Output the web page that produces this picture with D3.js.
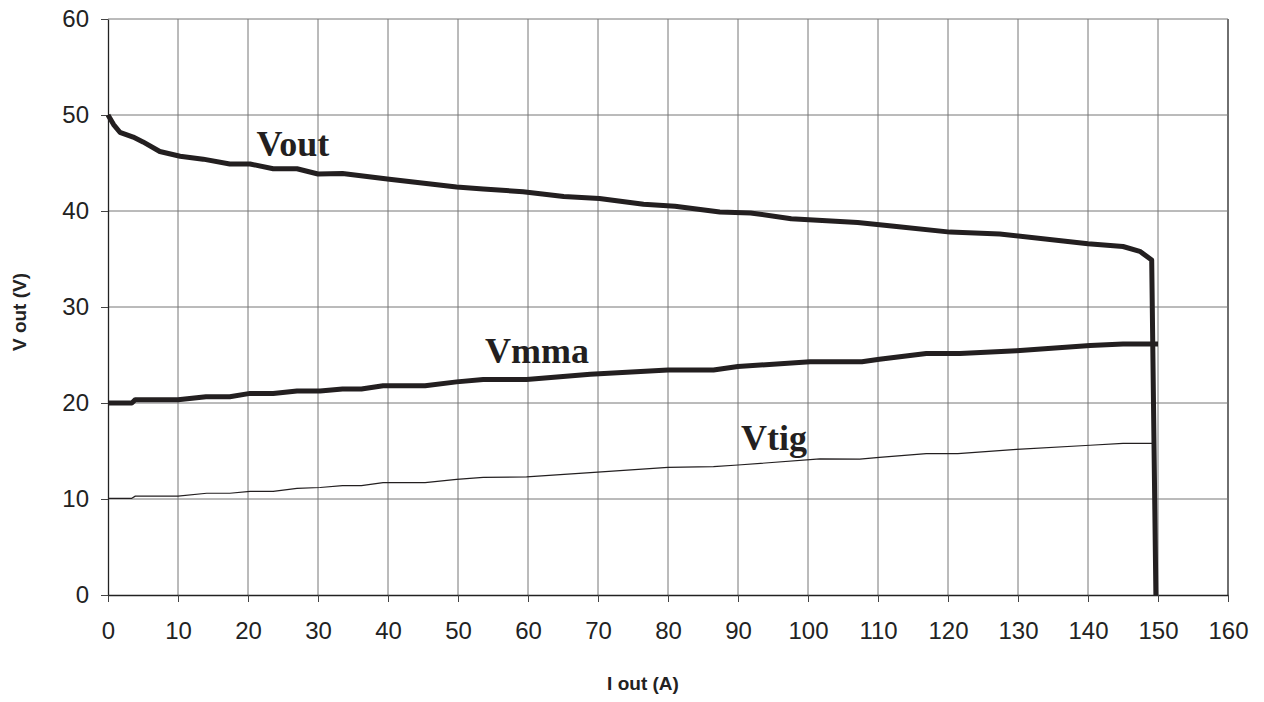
<!DOCTYPE html>
<html>
<head>
<meta charset="utf-8">
<script src="https://cdn.jsdelivr.net/npm/d3@7"></script>
<style>
  body { margin: 0; background: #fff; }
  svg { display: block; }
</style>
</head>
<body>
<div id="chart"></div>
<script>
const width = 1264;
const height = 702;

// x ticks / y ticks
const xTicks = [0, 10, 20, 30, 40, 50, 60, 70, 80, 90, 100, 110, 120, 130, 140, 150, 160];
const yTicks = [0, 10, 20, 30, 40, 50, 60];

// Vout curve (I out in A, V out in V)
const voutI = [0, 0.8, 1.7, 3.6, 5, 7.4, 10.3, 13.6, 17.4, 20.3, 23.6, 27, 30, 33.5, 40.2, 49.8, 53.6, 59.3, 65.1, 70.2, 76.5, 81, 87.4, 91.8, 97.6, 107.1, 112.3, 120.3, 127.4, 140, 145, 147.4, 149.1, 149.7];
const voutV = [50, 49, 48.2, 47.7, 47.2, 46.2, 45.7, 45.4, 44.9, 44.9, 44.4, 44.4, 43.85, 43.9, 43.3, 42.5, 42.3, 42.0, 41.5, 41.3, 40.7, 40.5, 39.9, 39.8, 39.2, 38.8, 38.4, 37.8, 37.6, 36.6, 36.3, 35.8, 34.9, 0];

// Vmma curve
const vmmaI = [0, 3.4, 3.9, 10, 14, 17.4, 20.3, 23.6, 27, 30.3, 33.5, 36.2, 39.3, 45.3, 49.8, 53.6, 59.8, 68.9, 80, 86.5, 90, 100.3, 107.7, 110.2, 116.9, 121.7, 129.8, 140.3, 145, 150];
const vmmaV = [20, 20, 20.35, 20.35, 20.65, 20.65, 21, 21, 21.25, 21.25, 21.45, 21.45, 21.8, 21.8, 22.2, 22.45, 22.45, 23.0, 23.44, 23.44, 23.8, 24.3, 24.3, 24.55, 25.15, 25.15, 25.45, 26.0, 26.15, 26.15];

// Vtig curve
const vtigI = [0, 3.4, 3.9, 10, 14.1, 17.4, 20.3, 23.6, 27, 30.3, 33.5, 36.2, 39.3, 45.3, 49.8, 53.6, 59.8, 68.9, 80, 86.5, 90, 101.7, 107.4, 110.2, 116.9, 121.4, 129.8, 140.3, 145, 149.3];
const vtigV = [10.07, 10.07, 10.3, 10.3, 10.6, 10.6, 10.8, 10.8, 11.1, 11.2, 11.4, 11.4, 11.7, 11.7, 12.05, 12.26, 12.3, 12.74, 13.3, 13.37, 13.54, 14.17, 14.15, 14.34, 14.72, 14.72, 15.17, 15.6, 15.8, 15.8];

const x = d3.scaleLinear().domain([0, 160]).range([108, 1228]);
const y = d3.scaleLinear().domain([0, 60]).range([595, 19]);

const svg = d3.select('#chart')
    .append('svg')
    .attr('width', width)
    .attr('height', height);

// grid
let grid = svg.append('g').attr('class', 'grid');
grid.selectAll('line.gx')
    .data(xTicks.slice(1))
    .enter()
    .append('line')
    .attr('x1', d => x(d)).attr('x2', d => x(d))
    .attr('y1', y(0)).attr('y2', y(60))
    .attr('stroke', d => d === 160 ? '#222' : '#777')
    .attr('stroke-width', d => d === 160 ? 1.3 : 1);
grid.selectAll('line.gy')
    .data(yTicks.slice(1))
    .enter()
    .append('line')
    .attr('x1', x(0)).attr('x2', x(160))
    .attr('y1', d => y(d)).attr('y2', d => y(d))
    .attr('stroke', '#777')
    .attr('stroke-width', 1);

// axes
let axisX = d3.axisBottom(x)
    .tickValues(xTicks)
    .tickSize(7)
    .tickPadding(20)
    .tickSizeOuter(0);
let axisY = d3.axisLeft(y)
    .tickValues(yTicks)
    .tickSize(7)
    .tickPadding(12)
    .tickSizeOuter(0);

let gx = svg.append('g')
    .attr('transform', 'translate(0,' + y(0) + ')')
    .call(axisX);
let gy = svg.append('g')
    .attr('transform', 'translate(' + x(0) + ',0)')
    .call(axisY);

[gx, gy].forEach(g => {
    g.select('.domain').attr('stroke', '#222').attr('stroke-width', 1.3);
    g.selectAll('.tick line').attr('stroke', '#444');
    g.selectAll('.tick text')
        .attr('fill', '#222')
        .style('font-family', '"Liberation Sans", Arial, sans-serif')
        .style('font-size', '24px');
});

// axis titles
svg.append('text')
    .attr('x', 643)
    .attr('y', 690)
    .attr('text-anchor', 'middle')
    .style('font-family', '"Liberation Sans", Arial, sans-serif')
    .style('font-weight', 'bold')
    .style('font-size', '19px')
    .attr('fill', '#222')
    .text('I out (A)');

svg.append('text')
    .attr('transform', 'translate(26,312) rotate(-90)')
    .attr('text-anchor', 'middle')
    .style('font-family', '"Liberation Sans", Arial, sans-serif')
    .style('font-weight', 'bold')
    .style('font-size', '19px')
    .attr('fill', '#222')
    .text('V out (V)');

// curves
const line = d3.line()
    .x(d => x(d[0]))
    .y(d => y(d[1]));

const series = [
    { i: vtigI, v: vtigV, w: 1.2 },
    { i: vmmaI, v: vmmaV, w: 5 },
    { i: voutI, v: voutV, w: 5 }
];

series.forEach(s => {
    svg.append('path')
        .attr('d', line(s.i.map((d, k) => [d, s.v[k]])))
        .attr('fill', 'none')
        .attr('stroke', '#231f20')
        .attr('stroke-width', s.w)
        .attr('stroke-linejoin', 'round');
});

// curve labels
const labels = [
    { text: 'Vout', x: 256.5, y: 156 },
    { text: 'Vmma', x: 485, y: 363 },
    { text: 'Vtig', x: 741, y: 450 }
];
svg.selectAll('text.lbl')
    .data(labels)
    .enter()
    .append('text')
    .attr('class', 'lbl')
    .attr('x', d => d.x)
    .attr('y', d => d.y)
    .style('font-family', '"Liberation Serif", "Times New Roman", serif')
    .style('font-weight', 'bold')
    .style('font-size', '36px')
    .attr('fill', '#231f20')
    .text(d => d.text);
</script>
</body>
</html>
